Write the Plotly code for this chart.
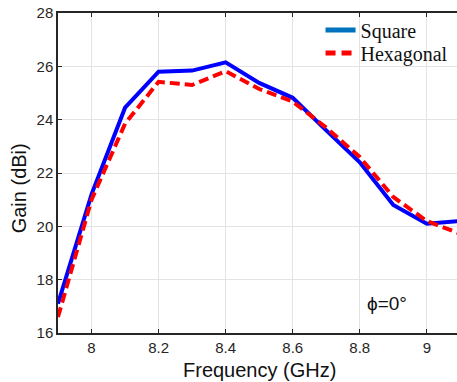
import plotly.graph_objects as go

freq = [7.9, 8.0, 8.1, 8.2, 8.3, 8.4, 8.5, 8.6, 8.7, 8.8, 8.9, 9.0, 9.1]
square = [17.1, 21.2, 24.45, 25.8, 25.84, 26.15, 25.38, 24.82, 23.6, 22.4, 20.8, 20.1, 20.2]
hexagonal = [16.6, 21.0, 23.85, 25.42, 25.3, 25.82, 25.15, 24.68, 23.7, 22.6, 21.1, 20.2, 19.72]
x_ticks = [8, 8.2, 8.4, 8.6, 8.8, 9]
x_tick_text = ["8", "8.2", "8.4", "8.6", "8.8", "9"]
y_ticks = [16, 18, 20, 22, 24, 26, 28]

fig = go.Figure()
fig.add_trace(go.Scatter(x=freq, y=square, mode="lines", showlegend=False,
                         line=dict(color="#0000FF", width=4)))
fig.add_trace(go.Scatter(x=freq, y=hexagonal, mode="lines", showlegend=False,
                         line=dict(color="#FF0000", width=4, dash="10px,5px")))
# legend entries (legend swatch colors differ slightly in the original)
fig.add_trace(go.Scatter(x=[None], y=[None], mode="lines", name="Square",
                         legend="legend",
                         line=dict(color="#0072BD", width=5)))
fig.add_trace(go.Scatter(x=[None], y=[None], mode="lines", name="Hexagonal",
                         legend="legend2",
                         line=dict(color="#FF0000", width=5, dash="10px,6px")))

axis_font = dict(family="Liberation Sans, Arial", size=15, color="#262626")
legend_font = dict(family="Liberation Serif, Times New Roman", size=20, color="#111111")
fig.update_layout(
    width=457, height=382,
    margin=dict(l=58, r=0, t=13, b=49),
    paper_bgcolor="white", plot_bgcolor="white",
    showlegend=True,
    legend=dict(x=0.658, y=0.947, xanchor="left", yanchor="middle",
                bgcolor="rgba(255,255,255,0)", font=legend_font, itemwidth=30),
    legend2=dict(x=0.658, y=0.875, xanchor="left", yanchor="middle",
                 bgcolor="rgba(255,255,255,0)", font=legend_font, itemwidth=30),
    xaxis=dict(range=[7.9, 9.09], tickvals=x_ticks, ticktext=x_tick_text,
               showgrid=True, gridcolor="#e3e3e3", gridwidth=1,
               showline=True, linecolor="#262626", linewidth=1.5, mirror="ticks",
               ticks="inside", ticklen=4, tickcolor="#262626",
               tickfont=axis_font, zeroline=False),
    yaxis=dict(range=[16, 28], tickvals=y_ticks,
               showgrid=True, gridcolor="#e3e3e3", gridwidth=1,
               showline=True, linecolor="#262626", linewidth=1.5, mirror=False,
               ticks="inside", ticklen=4, tickcolor="#262626",
               tickfont=axis_font, zeroline=False),
    annotations=[
        dict(text="Frequency (GHz)", xref="paper", yref="paper", x=0.505, y=-0.116,
             xanchor="center", yanchor="middle", showarrow=False,
             font=dict(family="Liberation Sans, Arial", size=20, color="#111111")),
        dict(text="Gain (dBi)", xref="paper", yref="paper", x=-0.097, y=0.453,
             xanchor="center", yanchor="middle", textangle=-90, showarrow=False,
             font=dict(family="Liberation Sans, Arial", size=20, color="#111111")),
        dict(text="ϕ=0°", xref="x", yref="y", x=8.882, y=17.12,
             xanchor="center", yanchor="middle", showarrow=False,
             font=dict(family="Liberation Sans, Arial", size=19, color="#111111")),
    ],
)

fig.write_html("out.html")
